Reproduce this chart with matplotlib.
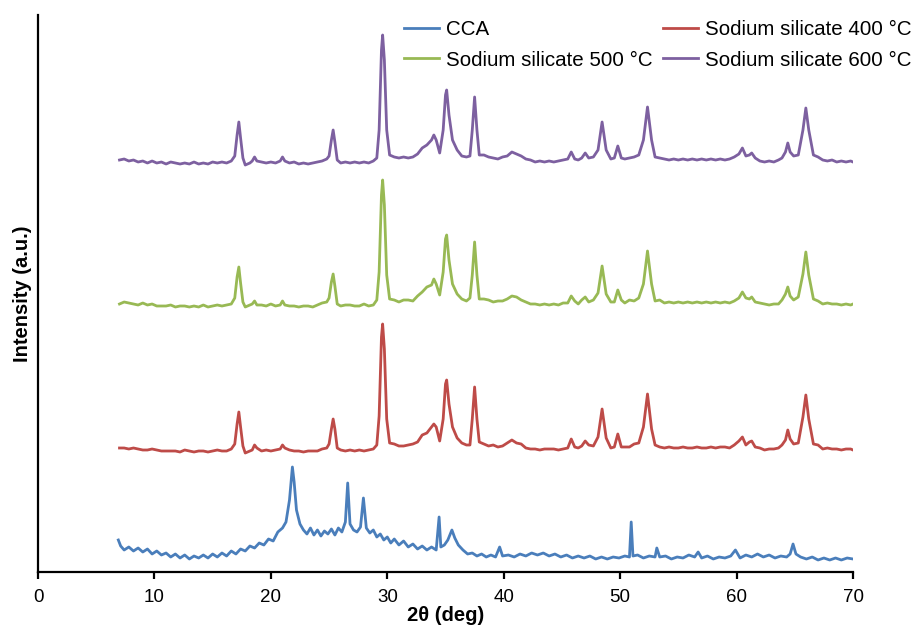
import matplotlib
matplotlib.use("Agg")
import matplotlib.pyplot as plt

# XRD patterns (2theta in deg, intensity in a.u.)
# sodium silicate samples share one 2theta grid, intensity above own baseline
two_theta_ss = [
    7.0, 7.4, 7.8, 8.2, 8.6, 9.0, 9.4, 9.8, 10.2, 10.6,
    11.0, 11.4, 11.8, 12.2, 12.6, 13.0, 13.4, 13.8, 14.2, 14.6,
    15.0, 15.4, 15.8, 16.2, 16.6, 16.9, 17.1, 17.25, 17.4, 17.6,
    17.8, 18.2, 18.4, 18.6, 18.8, 19.2, 19.6, 20.0, 20.4, 20.8,
    21.0, 21.2, 21.6, 22.0, 22.4, 22.8, 23.2, 23.6, 24.0, 24.4,
    24.8, 25.0, 25.2, 25.35, 25.5, 25.7, 26.0, 26.4, 26.8, 27.2,
    27.6, 28.0, 28.4, 28.8, 29.1, 29.3, 29.5, 29.6, 29.75, 29.95,
    30.2, 30.6, 31.0, 31.4, 31.8, 32.2, 32.6, 33.0, 33.4, 33.8,
    34.0, 34.2, 34.5, 34.8, 35.0, 35.1, 35.3, 35.6, 36.0, 36.4,
    36.8, 37.1, 37.3, 37.5, 37.7, 37.9, 38.3, 38.7, 39.1, 39.5,
    39.9, 40.3, 40.7, 41.1, 41.5, 41.9, 42.3, 42.7, 43.1, 43.5,
    43.9, 44.3, 44.7, 45.1, 45.5, 45.8, 46.1, 46.4, 46.7, 47.0,
    47.3, 47.7, 48.1, 48.45, 48.8, 49.2, 49.5, 49.8, 50.1, 50.4,
    50.8, 51.2, 51.6, 52.0, 52.35, 52.7, 53.0, 53.4, 53.8, 54.2,
    54.6, 55.0, 55.4, 55.8, 56.2, 56.6, 57.0, 57.4, 57.8, 58.2,
    58.6, 59.0, 59.4, 59.8, 60.2, 60.5, 60.8, 61.1, 61.3, 61.6,
    62.0, 62.4, 62.8, 63.2, 63.6, 63.9, 64.2, 64.4, 64.6, 64.9,
    65.3, 65.7, 65.95, 66.2, 66.6, 67.0, 67.4, 67.8, 68.2, 68.6,
    69.0, 69.4, 69.8, 70.0,
]

ss_400 = [
    2, 2, 1, 2, 1, 0, 0, 1, 0, -1,
    -1, -1, -1, -2, 0, -1, -2, -1, -1, -2,
    -1, 0, -1, -1, 1, 6, 26, 38, 23, 4,
    -3, -1, 0, 5, 2, -1, 0, -1, 0, 1,
    5, 2, 0, -1, -1, -2, -1, -1, -1, 1,
    2, 6, 21, 31, 21, 2, 0, -1, 0, -1,
    0, -1, 0, 1, 5, 34, 113, 126, 101, 31,
    7, 6, 4, 4, 5, 6, 8, 15, 17, 23,
    26, 23, 9, 31, 66, 70, 46, 23, 12, 7,
    5, 5, 31, 63, 31, 8, 6, 4, 5, 3,
    4, 7, 10, 7, 6, 2, 1, 1, 0, 1,
    1, 1, 0, 1, 2, 11, 3, 2, 4, 9,
    5, 4, 13, 41, 12, 2, 3, 16, 3, 3,
    3, 6, 7, 23, 56, 21, 5, 3, 2, 3,
    2, 2, 3, 2, 2, 3, 2, 2, 3, 2,
    3, 3, 2, 5, 9, 13, 5, 8, 9, 3,
    2, 0, 1, 1, 2, 5, 10, 20, 11, 6,
    7, 33, 55, 31, 6, 5, 1, 2, 1, 1,
    0, 1, 1, 0,
]

ss_500 = [
    1, 3, 2, 1, 0, 2, 0, 1, -1, -1,
    -1, 0, -2, -1, -1, -2, -1, -2, 0, -2,
    -1, 0, -1, 0, 1, 7, 28, 38, 22, 3,
    -2, 0, 1, 4, 0, 0, -1, 1, -1, 0,
    4, 0, -1, -1, -2, -1, -1, -2, 0, 2,
    3, 7, 23, 31, 19, 1, -1, 0, 0, -1,
    -1, 1, -1, 0, 5, 33, 110, 125, 100, 30,
    6, 5, 3, 5, 5, 4, 9, 13, 18, 20,
    26, 21, 10, 33, 66, 70, 45, 21, 11, 6,
    4, 7, 30, 63, 30, 6, 6, 5, 3, 4,
    4, 6, 9, 8, 5, 3, 1, 1, 0, 1,
    0, 1, 0, 2, 2, 9, 4, 1, 5, 8,
    3, 5, 12, 39, 11, 3, 3, 15, 5, 2,
    5, 4, 7, 21, 54, 21, 4, 5, 2, 3,
    2, 3, 2, 3, 2, 3, 2, 3, 2, 3,
    2, 3, 2, 4, 7, 13, 7, 6, 8, 3,
    2, 1, 0, 1, 1, 5, 11, 18, 9, 5,
    8, 31, 53, 30, 6, 4, 1, 2, 1, 1,
    0, 1, 0, 1,
]

ss_600 = [
    2, 3, 1, 2, 0, 1, -1, 1, -1, 0,
    -2, 0, -1, -2, -1, -2, 0, -2, -1, -2,
    0, -1, 0, -1, 1, 6, 27, 40, 24, 4,
    -3, -1, 1, 5, 1, 0, -1, 0, -1, 1,
    5, 1, -1, 0, -2, -1, -2, -1, 0, 1,
    3, 6, 22, 32, 20, 2, -1, 0, -1, 0,
    -1, 0, -1, 1, 4, 32, 112, 127, 102, 32,
    7, 5, 4, 5, 4, 5, 8, 14, 17, 22,
    27, 22, 9, 32, 67, 72, 47, 22, 12, 6,
    5, 6, 32, 65, 32, 7, 7, 5, 4, 3,
    5, 6, 10, 8, 6, 3, 2, 0, 1, 0,
    1, 0, 1, 2, 3, 10, 3, 2, 4, 9,
    4, 5, 12, 40, 12, 3, 4, 16, 4, 3,
    4, 5, 7, 22, 55, 22, 5, 4, 3, 2,
    3, 2, 3, 2, 3, 2, 3, 2, 3, 2,
    3, 2, 3, 5, 8, 14, 6, 7, 9, 4,
    1, 0, 1, 0, 2, 4, 10, 19, 10, 6,
    7, 32, 54, 32, 7, 5, 2, 1, 2, 0,
    1, 0, 1, 0,
]

two_theta_cca = [
    6.9, 7.1, 7.4, 7.8, 8.2, 8.6, 9.0, 9.4, 9.8, 10.2,
    10.6, 11.0, 11.4, 11.8, 12.2, 12.6, 13.0, 13.4, 13.8, 14.2,
    14.6, 15.0, 15.4, 15.8, 16.2, 16.6, 17.0, 17.4, 17.8, 18.2,
    18.6, 19.0, 19.4, 19.8, 20.2, 20.6, 21.0, 21.3, 21.6, 21.85,
    22.0, 22.2, 22.5, 22.8, 23.1, 23.4, 23.7, 24.0, 24.3, 24.6,
    24.9, 25.2, 25.5, 25.8, 26.1, 26.4, 26.6, 26.8, 27.1, 27.4,
    27.7, 27.95, 28.2, 28.5, 28.8, 29.1, 29.4, 29.7, 30.0, 30.3,
    30.6, 31.0, 31.4, 31.8, 32.2, 32.6, 33.0, 33.4, 33.8, 34.2,
    34.45, 34.6, 34.9, 35.2, 35.55, 35.8, 36.1, 36.5, 36.9, 37.3,
    37.7, 38.1, 38.5, 38.9, 39.3, 39.65, 39.9, 40.4, 40.9, 41.4,
    41.9, 42.4, 42.9, 43.4, 43.9, 44.4, 44.9, 45.4, 45.9, 46.4,
    46.9, 47.4, 47.9, 48.4, 48.9, 49.4, 49.9, 50.4, 50.8, 50.95,
    51.1, 51.5, 52.0, 52.5, 53.0, 53.15, 53.4, 53.9, 54.4, 54.9,
    55.4, 55.9, 56.4, 56.7, 57.0, 57.5, 58.0, 58.5, 59.0, 59.5,
    59.9, 60.3, 60.8, 61.3, 61.8, 62.3, 62.8, 63.3, 63.8, 64.3,
    64.6, 64.85, 65.1, 65.5, 66.0, 66.5, 67.0, 67.5, 68.0, 68.5,
    69.0, 69.5, 70.0,
]

int_cca = [
    32, 26, 22, 25, 21, 24, 20, 23, 18, 21,
    17, 19, 15, 18, 14, 17, 13, 16, 14, 17,
    14, 18, 15, 19, 16, 21, 18, 23, 21, 26,
    24, 29, 27, 33, 31, 40, 44, 50, 72, 105,
    90, 62, 48, 42, 38, 44, 37, 42, 36, 41,
    38, 43, 37, 44, 40, 50, 89, 48, 42, 40,
    45, 74, 44, 39, 42, 35, 38, 32, 35, 29,
    33, 27, 31, 25, 28, 23, 26, 22, 25, 22,
    55, 25, 27, 32, 42, 34, 27, 22, 18, 19,
    16, 18, 15, 17, 15, 25, 16, 17, 15, 18,
    16, 19, 17, 19, 16, 18, 15, 17, 14, 16,
    14, 16, 13, 15, 13, 15, 14, 16, 15, 50,
    16, 17, 14, 16, 15, 24, 15, 16, 13, 15,
    14, 17, 15, 20, 14, 16, 13, 15, 14, 16,
    22, 14, 17, 15, 18, 15, 17, 14, 16, 15,
    18, 28, 18, 15, 13, 15, 12, 14, 12, 14,
    12, 14, 13,
]

# vertical stacking of the patterns
offset_400 = 122
offset_500 = 267
offset_600 = 410

c_cca = '#4a7ebb'
c_400 = '#be4b48'
c_500 = '#98b954'
c_600 = '#7d60a0'

font = ['Liberation Sans', 'DejaVu Sans']

fig = plt.figure(figsize=(9.17, 6.3), dpi=100)
ax = fig.add_axes([38/917, 58/630, 815/917, 557/630])

lw = 2.0
l_cca, = ax.plot(two_theta_cca, int_cca, color=c_cca, lw=lw, label='CCA')
l_400, = ax.plot(two_theta_ss, [v + offset_400 for v in ss_400], color=c_400, lw=lw,
                 label='Sodium silicate 400 °C')
l_500, = ax.plot(two_theta_ss, [v + offset_500 for v in ss_500], color=c_500, lw=lw,
                 label='Sodium silicate 500 °C')
l_600, = ax.plot(two_theta_ss, [v + offset_600 for v in ss_600], color=c_600, lw=lw,
                 label='Sodium silicate 600 °C')

ax.set_xlim(0, 70)
ax.set_ylim(0, 557)
ax.set_xticks(range(0, 71, 10))
ax.set_yticks([])
for s in ['top', 'right']:
    ax.spines[s].set_visible(False)
for s in ['left', 'bottom']:
    ax.spines[s].set_linewidth(1.6)
ax.tick_params(axis='x', direction='out', length=5, width=1.6, pad=7)
for t in ax.get_xticklabels():
    t.set_family(font)
    t.set_fontsize(13.5)

ax.set_xlabel('2θ (deg)', family=font, fontsize=14.5, fontweight='bold', labelpad=0)
ax.set_ylabel('Intensity (a.u.)', family=font, fontsize=14.5, fontweight='bold', labelpad=4)

leg = fig.legend(handles=[l_cca, l_500, l_400, l_600], ncol=2, loc='upper left',
                 bbox_to_anchor=(394/917, 1 - 10/630), frameon=False, borderpad=0,
                 handlelength=1.7, handletextpad=0.33, columnspacing=0.5,
                 labelspacing=0.55, prop={'family': font, 'size': 14.8})

fig.savefig('out.png', dpi=100)
